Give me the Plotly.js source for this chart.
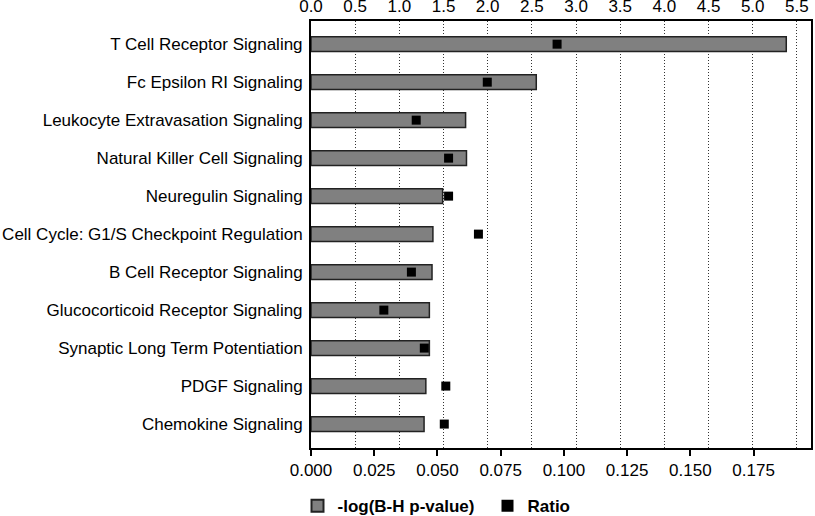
<!DOCTYPE html>
<html>
<head>
<meta charset="utf-8">
<script src="https://cdn.plot.ly/plotly-3.0.1.min.js"></script>
<style>html,body{margin:0;padding:0;background:#fff;}#chart{width:815px;height:516px;}</style>
</head>
<body>
<div id="chart"></div>
<script>
var pathways = [
  "T Cell Receptor Signaling",
  "Fc Epsilon RI Signaling",
  "Leukocyte Extravasation Signaling",
  "Natural Killer Cell Signaling",
  "Neuregulin Signaling",
  "Cell Cycle: G1/S Checkpoint Regulation",
  "B Cell Receptor Signaling",
  "Glucocorticoid Receptor Signaling",
  "Synaptic Long Term Potentiation",
  "PDGF Signaling",
  "Chemokine Signaling"
];
var negLogP = [5.38, 2.55, 1.75, 1.76, 1.49, 1.38, 1.37, 1.34, 1.34, 1.30, 1.28];
var ratio = [0.0973, 0.0697, 0.0416, 0.0544, 0.0544, 0.0662, 0.0397, 0.0288, 0.0448, 0.0533, 0.0527];
var topTicks = [0, 0.5, 1, 1.5, 2, 2.5, 3, 3.5, 4, 4.5, 5, 5.5];
var topTickText = ["0.0","0.5","1.0","1.5","2.0","2.5","3.0","3.5","4.0","4.5","5.0","5.5"];
var bottomTicks = [0, 0.025, 0.05, 0.075, 0.1, 0.125, 0.15, 0.175];
var bottomTickText = ["0.000","0.025","0.050","0.075","0.100","0.125","0.150","0.175"];

var font = "Liberation Sans, Arial, sans-serif";

var traces = [
  {
    type: "bar",
    orientation: "h",
    y: pathways,
    x: negLogP,
    xaxis: "x",
    yaxis: "y",
    name: "-log(B-H p-value)",
    width: 0.39,
    marker: {color: "#808080", line: {color: "#222222", width: 1.5}},
    hoverinfo: "x+y"
  },
  {
    type: "scatter",
    mode: "markers",
    y: pathways,
    x: ratio,
    xaxis: "x2",
    yaxis: "y",
    name: "Ratio",
    marker: {symbol: "square", size: 9, color: "#000000"},
    hoverinfo: "x+y"
  }
];

var layout = {
  width: 815,
  height: 516,
  margin: {l: 311, r: 4, t: 21, b: 68, autoexpand: false},
  paper_bgcolor: "#ffffff",
  plot_bgcolor: "#ffffff",
  font: {family: font, size: 17, color: "#000000"},
  showlegend: true,
  legend: {
    orientation: "h",
    x: -0.027, xanchor: "left",
    y: -0.094, yanchor: "top",
    font: {family: font, size: 17, color: "#000000", weight: "bold"},
    itemsizing: "constant",
    entrywidth: 145,
    entrywidthmode: "pixels",
    traceorder: "normal"
  },
  xaxis: {
    side: "top",
    range: [0, 5.66],
    tickvals: topTicks,
    ticktext: topTickText,
    showgrid: true,
    gridcolor: "#333333",
    griddash: "1px,2px",
    gridwidth: 1,
    zeroline: false,
    showline: true,
    linecolor: "#000000",
    linewidth: 2,
    ticks: "",
    tickfont: {family: font, size: 17, color: "#000000"},
    fixedrange: true
  },
  xaxis2: {
    side: "bottom",
    overlaying: "x",
    anchor: "y",
    range: [0, 0.1977],
    tickvals: bottomTicks,
    ticktext: bottomTickText,
    showgrid: false,
    zeroline: false,
    showline: true,
    linecolor: "#000000",
    linewidth: 2,
    ticks: "outside",
    ticklen: 6,
    tickwidth: 2,
    tickcolor: "#000000",
    tickfont: {family: font, size: 17, color: "#000000"},
    fixedrange: true
  },
  yaxis: {
    type: "category",
    range: [10.63, -0.61],
    showgrid: false,
    zeroline: false,
    showline: true,
    mirror: true,
    linecolor: "#000000",
    linewidth: 2,
    ticks: "",
    ticklabelstandoff: 3,
    tickfont: {family: font, size: 17, color: "#000000"},
    fixedrange: true
  }
};

Plotly.newPlot("chart", traces, layout, {displayModeBar: false, staticPlot: true});
</script>
</body>
</html>
